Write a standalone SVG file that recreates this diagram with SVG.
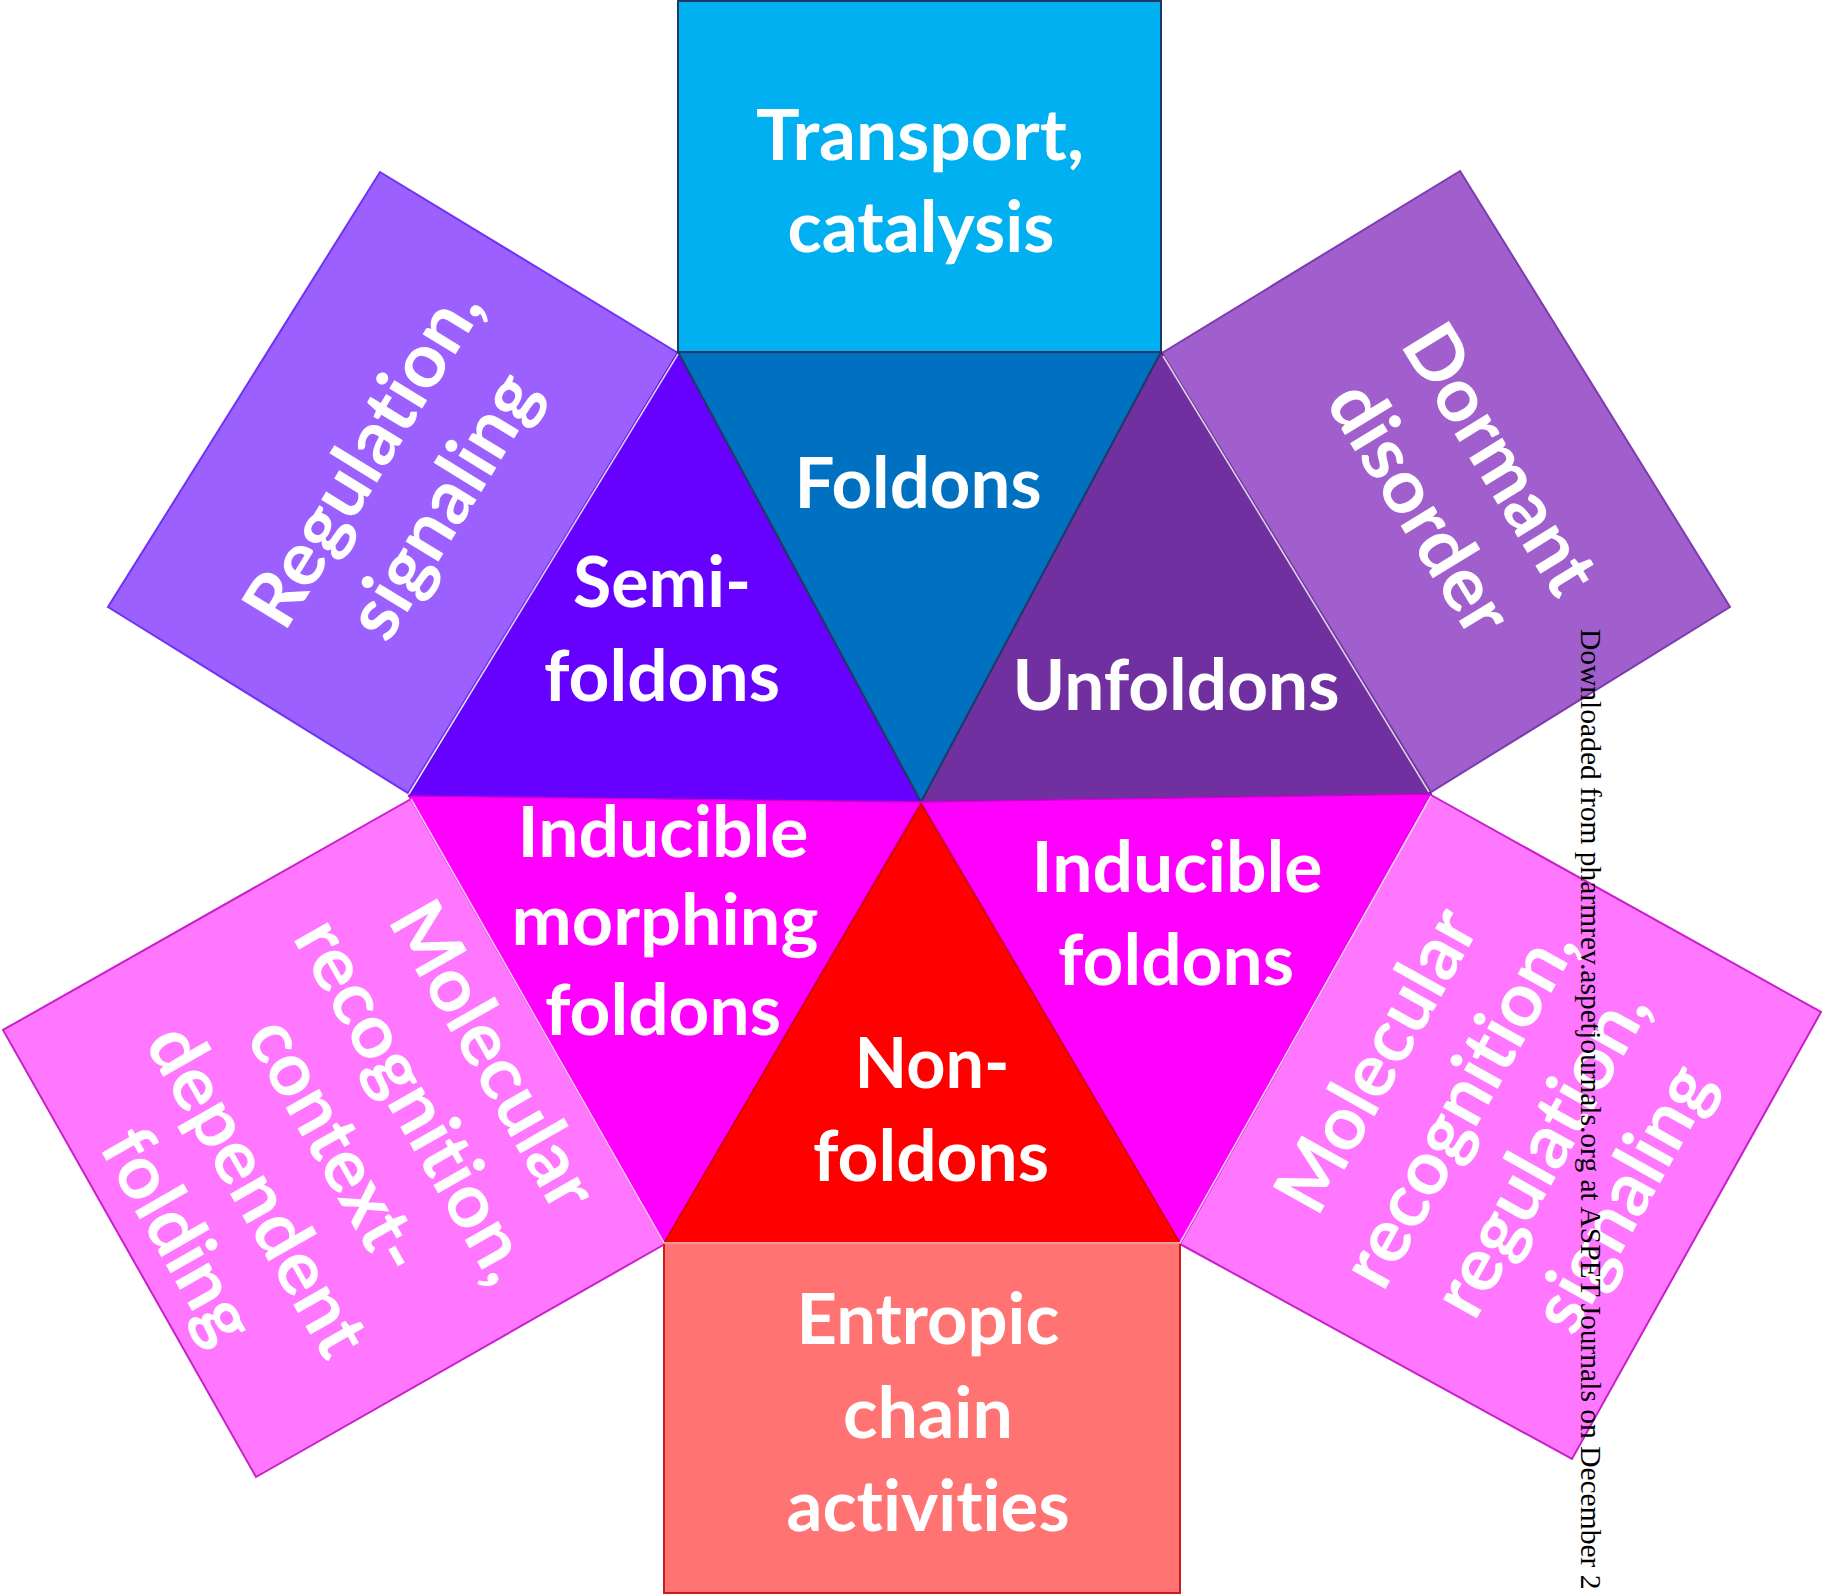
<svg xmlns="http://www.w3.org/2000/svg" width="1823" height="1595" viewBox="0 0 1823 1595">
<style>
.t{font-family:Lato,"Open Sans","DejaVu Sans",sans-serif;font-weight:700;fill:#ffffff;text-anchor:middle;font-variant-ligatures:none}
.in{font-size:70px}
.out{font-size:75px}
.gap{stroke:#ffffff;stroke-width:1.6;stroke-opacity:0.8;fill:none}
.wm{font-family:"Liberation Serif","Times New Roman",serif;font-size:29.5px;fill:#000000}
</style>
<rect width="1823" height="1595" fill="#ffffff"/>
<g id="regulation-signaling">
<polygon points="380,172 678,353 408,793 108,607" fill="#9C60FF" stroke="#6F33F5" stroke-width="2"/>
<g transform="translate(393.5,482) rotate(-58.5)">
<text class="t out" x="6" y="-14" textLength="384" lengthAdjust="spacingAndGlyphs">Regulation,</text>
<text class="t out" x="6" y="80" textLength="296" lengthAdjust="spacingAndGlyphs">signaling</text>
</g>
</g>
<g id="dormant-disorder">
<polygon points="1460,171 1730,607 1431,792 1162,353" fill="#A05FCC" stroke="#7D3CAE" stroke-width="2"/>
<g transform="translate(1445.75,480.75) rotate(58.5)">
<text class="t out" x="10" y="-32" textLength="301" lengthAdjust="spacingAndGlyphs">Dormant</text>
<text class="t out" x="10" y="62" textLength="281" lengthAdjust="spacingAndGlyphs">disorder</text>
</g>
</g>
<g id="molecular-recognition-context">
<polygon points="411,799 665,1244 256,1477 3,1030" fill="#FF77FF" stroke="#C820C8" stroke-width="2"/>
<g transform="translate(333.75,1137.5) rotate(60.3)">
<text class="t out" x="8" y="-154" textLength="341" lengthAdjust="spacingAndGlyphs">Molecular</text>
<text class="t out" x="8" y="-63" textLength="405" lengthAdjust="spacingAndGlyphs">recognition,</text>
<text class="t out" x="8" y="27" textLength="280" lengthAdjust="spacingAndGlyphs">context-</text>
<text class="t out" x="8" y="118" textLength="368" lengthAdjust="spacingAndGlyphs">dependent</text>
<text class="t out" x="8" y="209" textLength="234" lengthAdjust="spacingAndGlyphs">folding</text>
</g>
</g>
<g id="molecular-recognition-regulation">
<polygon points="1431,795 1821,1012 1572,1459 1180,1244" fill="#FF77FF" stroke="#C820C8" stroke-width="2"/>
<g transform="translate(1501,1127.5) rotate(-60.8)">
<text class="t out" x="-2" y="-116" textLength="334" lengthAdjust="spacingAndGlyphs">Molecular</text>
<text class="t out" x="-2" y="-22" textLength="400" lengthAdjust="spacingAndGlyphs">recognition,</text>
<text class="t out" x="-2" y="72" textLength="362" lengthAdjust="spacingAndGlyphs">regulation,</text>
<text class="t out" x="-2" y="166" textLength="292" lengthAdjust="spacingAndGlyphs">signaling</text>
</g>
</g>
<g id="transport-catalysis">
<rect x="678" y="1" width="483" height="351" fill="#00B0F0" stroke="#203864" stroke-width="2"/>
<text class="t in" x="920" y="160" textLength="328" lengthAdjust="spacingAndGlyphs">Transport,</text>
<text class="t in" x="921" y="252" textLength="267" lengthAdjust="spacingAndGlyphs">catalysis</text>
</g>
<g id="entropic-chain-activities">
<rect x="664" y="1243" width="516" height="350" fill="#FF7373" stroke="#C81E1E" stroke-width="2"/>
<text class="t in" x="928" y="1344" textLength="263" lengthAdjust="spacingAndGlyphs">Entropic</text>
<text class="t in" x="928" y="1438" textLength="170" lengthAdjust="spacingAndGlyphs">chain</text>
<text class="t in" x="928" y="1531" textLength="283" lengthAdjust="spacingAndGlyphs">activities</text>
</g>
<g id="semi-foldons">
<polygon points="678,352 921,802 409,796" fill="#6600FF" stroke="#4F00C8" stroke-width="1.5"/>
<text class="t in" x="662" y="607" textLength="178" lengthAdjust="spacingAndGlyphs">Semi-</text>
<text class="t in" x="662" y="701" textLength="236" lengthAdjust="spacingAndGlyphs">foldons</text>
</g>
<g id="unfoldons">
<polygon points="1161,352 1431,794 921,802" fill="#7030A0" stroke="#58237F" stroke-width="1.5"/>
<text class="t in" x="1176" y="710" textLength="327" lengthAdjust="spacingAndGlyphs">Unfoldons</text>
</g>
<g id="foldons">
<polygon points="678,352 1161,352 921,802" fill="#0070C0" stroke="#203864" stroke-width="2"/>
<text class="t in" x="918" y="508" textLength="247" lengthAdjust="spacingAndGlyphs">Foldons</text>
</g>
<g id="inducible-morphing-foldons">
<polygon points="409,796 921,802 664,1243" fill="#FF00FF" stroke="#D000D0" stroke-width="1.5"/>
<text class="t in" x="663" y="857" textLength="291" lengthAdjust="spacingAndGlyphs">Inducible</text>
<text class="t in" x="665" y="945" textLength="307" lengthAdjust="spacingAndGlyphs">morphing</text>
<text class="t in" x="663" y="1035" textLength="236" lengthAdjust="spacingAndGlyphs">foldons</text>
</g>
<g id="inducible-foldons">
<polygon points="921,802 1431,794 1180,1243" fill="#FF00FF" stroke="#D000D0" stroke-width="1.5"/>
<text class="t in" x="1177" y="892" textLength="291" lengthAdjust="spacingAndGlyphs">Inducible</text>
<text class="t in" x="1176" y="985" textLength="236" lengthAdjust="spacingAndGlyphs">foldons</text>
</g>
<g id="non-foldons">
<polygon points="921,804 1180,1243 664,1243" fill="#FF0000" stroke="#D00000" stroke-width="1.5"/>
<text class="t in" x="932" y="1088" textLength="155" lengthAdjust="spacingAndGlyphs">Non-</text>
<text class="t in" x="931" y="1181" textLength="236" lengthAdjust="spacingAndGlyphs">foldons</text>
</g>
<g id="connectors">
<polyline class="gap" points="678,354 409,794"/>
<polyline class="gap" points="411,799 664,1243 1180,1243 1431,796"/>
<polyline class="gap" points="1163,356 1429,792" stroke-opacity="0.4"/>
</g>
<text class="wm" transform="translate(1581,629) rotate(90)">Downloaded from pharmrev.aspetjournals.org at ASPET Journals on December 2</text>
</svg>
